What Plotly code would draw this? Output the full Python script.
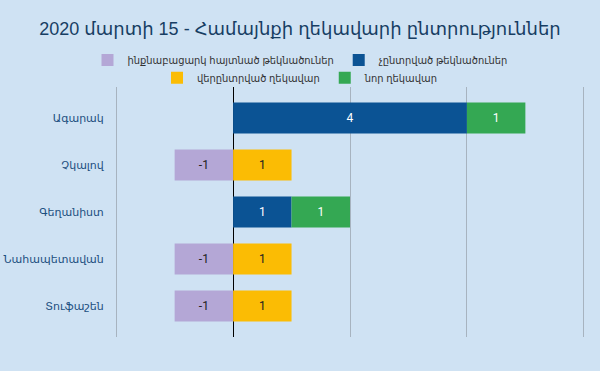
import plotly.graph_objects as go

categories = ["Ագարակ", "Չկալով", "Գեղանիստ", "Նահապետավան", "Տուֆաշեն"]
withdrawn = [None, -1, None, -1, -1]
not_elected = [4, None, 1, None, None]
reelected = [None, 1, None, 1, 1]
new_head = [1, None, 1, None, None]

series = [
    ("ինքնաբացարկ հայտնած թեկնածուներ", withdrawn, "#b4a7d6", "#222222", "legend"),
    ("չընտրված թեկնածուներ", not_elected, "#0b5394", "#ffffff", "legend"),
    ("վերընտրված ղեկավար", reelected, "#fbbc04", "#222222", "legend2"),
    ("նոր ղեկավար", new_head, "#34a853", "#ffffff", "legend2"),
]

FONT = "Roboto, 'Noto Sans', 'DejaVu Sans', sans-serif"
TFONT = "Arial, 'Liberation Sans', 'DejaVu Sans', sans-serif"
LFONT = "Roboto, 'DejaVu Sans Condensed', sans-serif"

fig = go.Figure()
for name, vals, color, tcolor, leg in series:
    fig.add_trace(go.Bar(
        name=name, y=categories, x=vals, orientation="h",
        marker=dict(color=color, line=dict(width=0)),
        text=[str(v) if v is not None else "" for v in vals],
        textposition="inside", insidetextanchor="middle",
        textfont=dict(color=tcolor, size=12, family=FONT),
        width=0.66, legend=leg,
    ))

fig.update_layout(
    width=600, height=371,
    paper_bgcolor="#cfe2f3", plot_bgcolor="#cfe2f3",
    barmode="relative",
    margin=dict(l=115, r=15, t=87, b=34, autoexpand=False),
    font=dict(family=FONT, color="#333333"),
    title=dict(text="2020 մարտի 15 - Համայնքի ղեկավարի ընտրություններ",
               xref="container", x=0.5, xanchor="center", y=0.922, yanchor="middle",
               font=dict(size=18, color="#173e63", family=TFONT)),
    legend=dict(orientation="h", x=0.5, xanchor="center", y=1.108, yanchor="middle",
                xref="container",
                font=dict(size=11, color="#333333", family=LFONT), bgcolor="rgba(0,0,0,0)",
                itemwidth=30, traceorder="normal"),
    legend2=dict(orientation="h", x=0.5, xanchor="center", y=1.037, yanchor="middle",
                 xref="container",
                 font=dict(size=11, color="#333333", family=LFONT), bgcolor="rgba(0,0,0,0)",
                 itemwidth=30, traceorder="normal"),
    showlegend=True,
)
fig.update_xaxes(range=[-2.02, 6.02], tick0=0, dtick=2, showticklabels=False, showgrid=True,
                 gridcolor="#a7b3bf", gridwidth=1, zeroline=True,
                 zerolinecolor="#000000", zerolinewidth=1, fixedrange=True,
                 automargin=False)
fig.update_yaxes(categoryorder="array", categoryarray=categories,
                 range=[4.66, -0.66], showgrid=False, zeroline=False,
                 ticks="outside", ticklen=8, tickcolor="rgba(0,0,0,0)",
                 automargin=False, fixedrange=True,
                 tickfont=dict(size=11, color="#1c4f80", family=FONT))

fig.write_html("out.html", config={"displayModeBar": False},
               post_script="document.body.style.margin='0';document.body.style.background='#cfe2f3';")
